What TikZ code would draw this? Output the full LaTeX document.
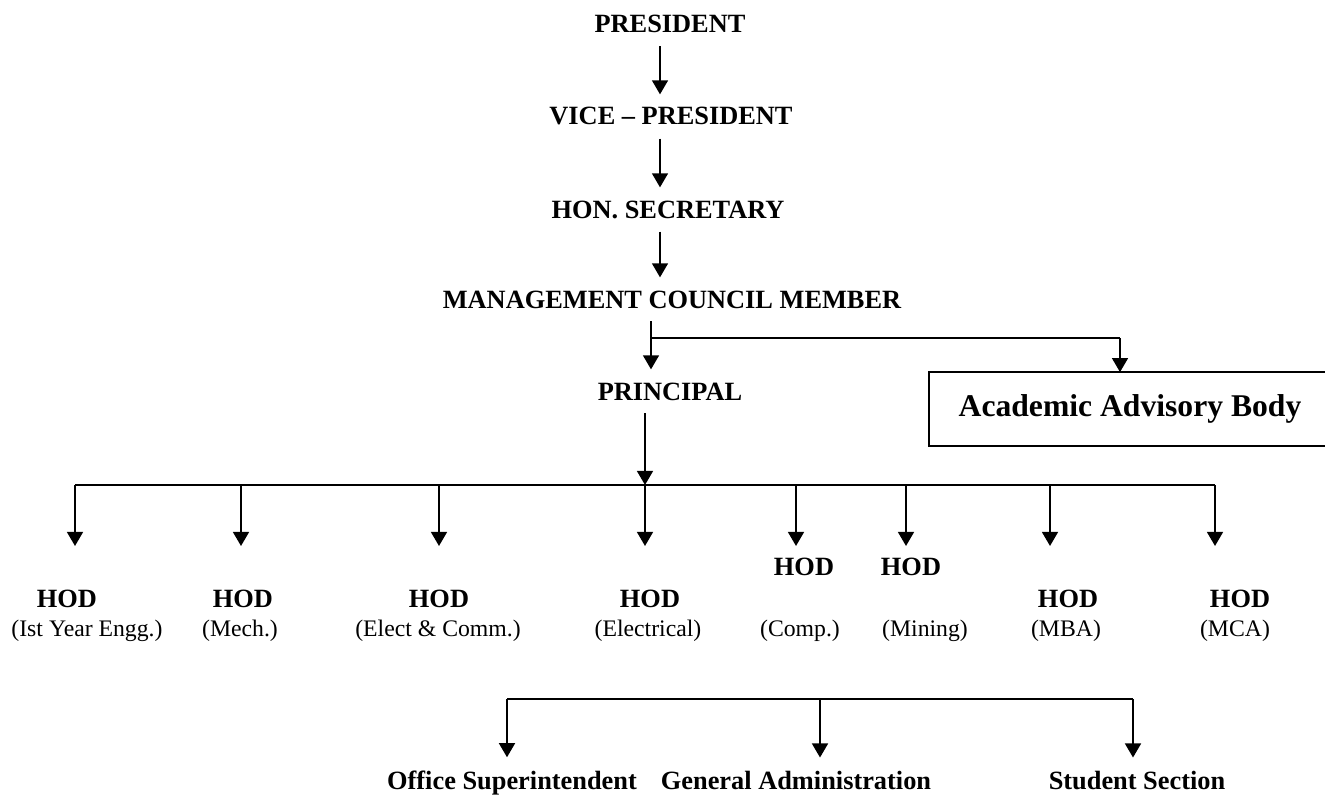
\documentclass[tikz,border=0pt]{standalone}
\usepackage{fontspec}
\setmainfont{Liberation Serif}
\usetikzlibrary{arrows.meta}
\usetikzlibrary{calc}

\begin{document}
\begin{tikzpicture}[line width=1pt,
        title_style/.style={anchor=base,inner sep=7pt,font=\fontsize{15}{18}\selectfont\bfseries},
        hod_style/.style={anchor=base,inner sep=0pt,font=\fontsize{15}{18}\selectfont\bfseries},
        dept_style/.style={anchor=base,inner sep=0pt,font=\fontsize{13.5}{16}\selectfont},
        box_style/.style={minimum width=8cm,minimum height=1.44cm,inner sep=0pt,font=\fontsize{18}{22}\selectfont\bfseries},
        line_style/.style={draw=black,line width=1pt,-},
        arrow_style/.style={draw=black,line width=1.2pt,-{Triangle[length=8pt,width=9pt]}}]

        \useasboundingbox (0,0) rectangle (26.5,15.92);

        \node [title_style](pres) at (13.40,15.26) {PRESIDENT};
        \node [title_style](vp) at (13.42,13.42) {VICE – PRESIDENT};
        \node [title_style](sec) at (13.36,11.56) {HON. SECRETARY};
        \node [title_style](mcm) at (13.44,9.76) {MANAGEMENT COUNCIL MEMBER};
        \node [title_style](prin) at (13.40,7.92) {PRINCIPAL};
        \node [box_style](aab) at (22.60,7.74) {Academic Advisory Body};

        \coordinate (spine) at (13.20,0);
        \coordinate (fork) at (13.02,9.16);
        \coordinate (aabin) at (22.40,9.16);
        \coordinate (tips) at (0,5.00);

        \draw [arrow_style] (pres.south -| spine) -- (vp.north -| spine);
        \draw [arrow_style] (vp.south -| spine) -- (sec.north -| spine);
        \draw [arrow_style] (sec.south -| spine) -- (mcm.north -| spine);
        \draw [arrow_style] (mcm.south -| fork) -- (prin.north -| fork);
        \draw [line_style] (fork) -- (aabin);
        \draw [arrow_style] (aabin) -- (aabin |- aab.north);
        \draw [line_style] (aab.north east) -- (aab.north west) -- (aab.south west) -- (aab.south east);

        \node [hod_style](hod1) at (1.34,3.78) {HOD};
        \node [hod_style](hod2) at (4.86,3.78) {HOD};
        \node [hod_style](hod3) at (8.78,3.78) {HOD};
        \node [hod_style](hod4) at (13.00,3.78) {HOD};
        \node [hod_style](hod5) at (16.08,4.42) {HOD};
        \node [hod_style](hod6) at (18.22,4.42) {HOD};
        \node [hod_style](hod7) at (21.36,3.78) {HOD};
        \node [hod_style](hod8) at (24.80,3.78) {HOD};
        \node [dept_style](dep1) at (1.74,3.20) {(Ist Year Engg.)};
        \node [dept_style](dep2) at (4.80,3.20) {(Mech.)};
        \node [dept_style](dep3) at (8.76,3.20) {(Elect \& Comm.)};
        \node [dept_style](dep4) at (12.96,3.20) {(Electrical)};
        \node [dept_style](dep5) at (16.00,3.20) {(Comp.)};
        \node [dept_style](dep6) at (18.50,3.20) {(Mining)};
        \node [dept_style](dep7) at (21.32,3.20) {(MBA)};
        \node [dept_style](dep8) at (24.70,3.20) {(MCA)};

        \coordinate (bus1) at (1.50,6.22);
        \coordinate (bus2) at (4.82,6.22);
        \coordinate (bus3) at (8.78,6.22);
        \coordinate (bus4) at (12.90,6.22);
        \coordinate (bus5) at (15.92,6.22);
        \coordinate (bus6) at (18.12,6.22);
        \coordinate (bus7) at (21.00,6.22);
        \coordinate (bus8) at (24.30,6.22);

        \draw [arrow_style] (prin.south -| bus4) -- (bus4);
        \draw [line_style] (bus1) -- (bus8);
        \draw [arrow_style] (bus1) -- (bus1 |- tips);
        \draw [arrow_style] (bus2) -- (bus2 |- tips);
        \draw [arrow_style] (bus3) -- (bus3 |- tips);
        \draw [arrow_style] (bus4) -- (bus4 |- tips);
        \draw [arrow_style] (bus5) -- (bus5 |- tips);
        \draw [arrow_style] (bus6) -- (bus6 |- tips);
        \draw [arrow_style] (bus7) -- (bus7 |- tips);
        \draw [arrow_style] (bus8) -- (bus8 |- tips);

        \node [title_style](os) at (10.24,0.14) {Office Superintendent};
        \node [title_style](ga) at (15.92,0.14) {General Administration};
        \node [title_style](ss) at (22.74,0.14) {Student Section};

        \coordinate (sub1) at (10.14,1.94);
        \coordinate (sub2) at (16.40,1.94);
        \coordinate (sub3) at (22.66,1.94);

        \draw [line_style] (sub1) -- (sub3);
        \draw [arrow_style] (sub1) -- (sub1 |- os.north);
        \draw [arrow_style] (sub2) -- (sub2 |- ga.north);
        \draw [arrow_style] (sub3) -- (sub3 |- ss.north);
        \end{tikzpicture}
\end{document}
